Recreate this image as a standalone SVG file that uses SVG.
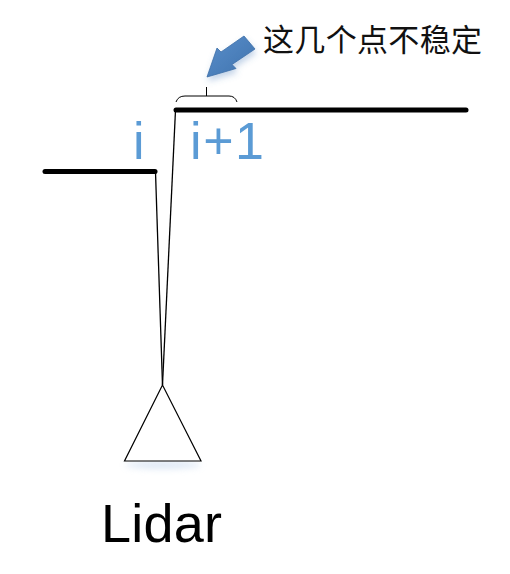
<svg xmlns="http://www.w3.org/2000/svg" width="510" height="574" viewBox="0 0 510 574">
  <defs>
    <filter id="shadow" x="-50%" y="-50%" width="200%" height="200%">
      <feGaussianBlur in="SourceAlpha" stdDeviation="3"/>
      <feOffset dx="1" dy="4" result="b"/>
      <feFlood flood-color="#4F81BD" flood-opacity="0.35"/>
      <feComposite in2="b" operator="in"/>
      <feMerge><feMergeNode/><feMergeNode in="SourceGraphic"/></feMerge>
    </filter>
    <filter id="glow" x="-30%" y="-100%" width="160%" height="300%">
      <feGaussianBlur stdDeviation="3"/>
    </filter>
    <linearGradient id="arrowFill" x1="0" y1="0" x2="1" y2="1">
      <stop offset="0" stop-color="#5A8FCB"/>
      <stop offset="1" stop-color="#3F72AD"/>
    </linearGradient>
  </defs>
  <style>
    .surface { stroke: #000; stroke-width: 5; stroke-linecap: round; fill: none; }
    .ray { stroke: #000; stroke-width: 1.3; fill: none; }
    .thin { stroke: #000; stroke-width: 1; fill: none; }
    .idx { font-family: "Liberation Sans", Arial, sans-serif; font-size: 52px; fill: #5B9BD5; }
    .label { font-family: "Liberation Sans", Arial, sans-serif; font-size: 54px; fill: #000; }
    .note { font-family: "Noto Sans CJK SC", "Noto Sans", sans-serif; font-size: 31px; fill: #111; }
  </style>
  <rect width="510" height="574" fill="#fff"/>

  <g id="surfaces">
    <line class="surface" x1="45" y1="171.5" x2="155" y2="171.5"/>
    <line class="surface" x1="176" y1="110" x2="466" y2="110"/>
  </g>

  <g id="connectors">
    <line class="ray" x1="155.5" y1="172" x2="162.5" y2="385"/>
    <line class="ray" x1="175.5" y1="110" x2="162.5" y2="385"/>
  </g>

  <g id="lidar">
    <ellipse cx="163" cy="465" rx="38" ry="4" fill="#C9DAF0" opacity="0.6" filter="url(#glow)"/>
    <polygon points="162.5,385 124.5,461 201,461" fill="#fff" stroke="#000" stroke-width="1.2" stroke-linejoin="miter"/>
    <text class="label" x="101" y="541.5" textLength="121" lengthAdjust="spacing">Lidar</text>
  </g>

  <g id="labels">
    <text class="idx" x="133" y="158.5">i</text>
    <text class="idx" x="190" y="158.5" textLength="74" lengthAdjust="spacing">i+1</text>
  </g>

  <g id="bracket">
    <path class="thin" d="M176,102 Q178,96 185,96 L229,96 Q235,96 237,102"/>
    <line class="thin" x1="206.5" y1="87" x2="206.5" y2="96"/>
  </g>

  <g id="note">
    <polygon points="207,77 217,48 221,52 244,36 255,49 232,64.5 236,68.5" fill="url(#arrowFill)" stroke="#3C6EA8" stroke-width="0.8" filter="url(#shadow)"/>
    <text class="note" x="263" y="51" textLength="219" lengthAdjust="spacing">这几个点不稳定</text>
  </g>
</svg>
